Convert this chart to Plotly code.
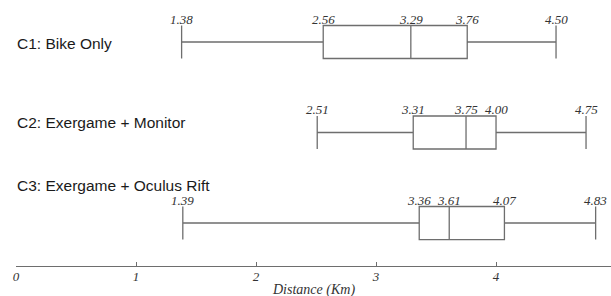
import plotly.graph_objects as go

# ---- data ----
categories = ["C1: Bike Only", "C2: Exergame + Monitor", "C3: Exergame + Oculus Rift"]
minimum = [1.38, 2.51, 1.39]
q1 = [2.56, 3.31, 3.36]
median = [3.29, 3.75, 3.61]
q3 = [3.76, 4.00, 4.07]
maximum = [4.50, 4.75, 4.83]
x_ticks = [0, 1, 2, 3, 4]
x_title = "Distance (Km)"

W, H = 611, 296
line_col = "#6e6e6e"
serif = "Liberation Serif, Times New Roman, serif"
sans = "Liberation Sans, Arial, sans-serif"

fig = go.Figure()
fig.add_trace(go.Box(
    y=categories,
    q1=q1, median=median, q3=q3,
    lowerfence=minimum, upperfence=maximum,
    orientation="h",
    boxpoints=False,
    width=0.365,
    whiskerwidth=1,
    fillcolor="white",
    line=dict(color=line_col, width=1.3),
    showlegend=False,
    hoverinfo="skip",
))

annotations = []
# value labels above each box
for i, cat in enumerate(categories):
    for v in (minimum[i], q1[i], median[i], q3[i], maximum[i]):
        annotations.append(dict(
            x=v, y=i, xref="x", yref="y", text=f"{v:.2f}",
            showarrow=False, yshift=23, xanchor="center", yanchor="middle",
            font=dict(family=serif, size=13, color="#333333", style="italic"),
        ))
# group labels on the left
label_offsets = [0.02, -0.11, -0.41]
for i, cat in enumerate(categories):
    annotations.append(dict(
        x=0, y=i + label_offsets[i], xref="paper", yref="y", text=cat,
        showarrow=False, xanchor="left", yanchor="middle", xshift=-1,
        font=dict(family=sans, size=15.5, color="#1a1a1a"),
    ))
# x-axis title
annotations.append(dict(
    x=0.5, y=0, xref="paper", yref="paper", text=x_title,
    showarrow=False, xanchor="center", yanchor="middle", yshift=-24,
    font=dict(family=serif, size=14, color="#333333", style="italic"),
))

fig.update_layout(
    width=W, height=H,
    margin=dict(l=16, r=0, t=0, b=30),
    paper_bgcolor="white", plot_bgcolor="white",
    annotations=annotations,
    xaxis=dict(
        range=[0, 4.958],
        tickvals=x_ticks,
        ticktext=[str(t) for t in x_ticks],
        showgrid=False, zeroline=False, automargin=False,
        showline=True, linecolor=line_col, linewidth=1.2,
        ticks="inside", ticklen=4, tickcolor=line_col, tickwidth=1,
        ticklabelstandoff=-2,
        tickfont=dict(family=serif, size=13, color="#333333", style="italic"),
    ),
    yaxis=dict(
        type="category",
        categoryorder="array", categoryarray=categories,
        range=[2.475, -0.464],
        automargin=False,
        showgrid=False, zeroline=False, showline=False,
        showticklabels=False, ticks="",
    ),
)

fig.write_html(
    "out.html",
    config={"displayModeBar": False, "staticPlot": True},
    post_script="document.body.style.margin='0';document.body.style.overflow='hidden';",
)
